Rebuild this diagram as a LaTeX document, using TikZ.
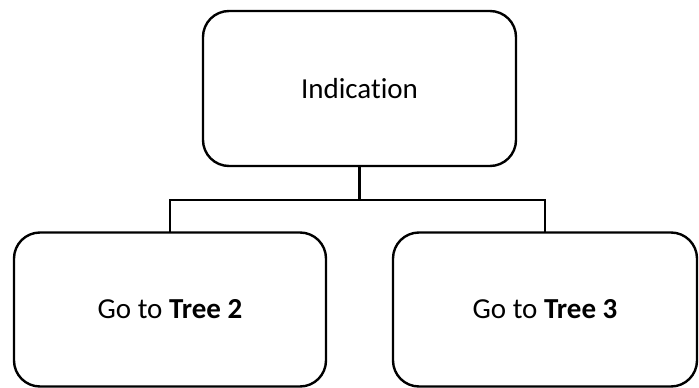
\documentclass[tikz,border=0pt]{standalone}
\usepackage{fontspec}
\setmainfont[Ligatures=NoCommon]{Carlito}
\begin{document}
\begin{tikzpicture}[x=1pt,y=-1pt,
  box/.style={draw=black, line width=2.4pt, rounded corners=26pt,
    inner sep=0pt, outer sep=0pt, minimum height=154pt,
    font=\fontsize{29}{35}\selectfont},
  link/.style={draw=black, line width=2.4pt}]
\useasboundingbox (0,0) rectangle (699,388);
\node[box, minimum width=313pt, minimum height=155pt] (top) at (359.5,88.5) {Indication};
\node[box, minimum width=312pt] (left) at (170,309.5) {Go to \textbf{Tree 2}};
\node[box, minimum width=304pt] (right) at (545,309.5) {Go to \textbf{Tree 3}};
\coordinate (bus) at (359.5,200);
\draw[link] (top.south) -- (bus);
\draw[link] (left.north) |- (bus) -| (right.north);
\end{tikzpicture}
\end{document}
